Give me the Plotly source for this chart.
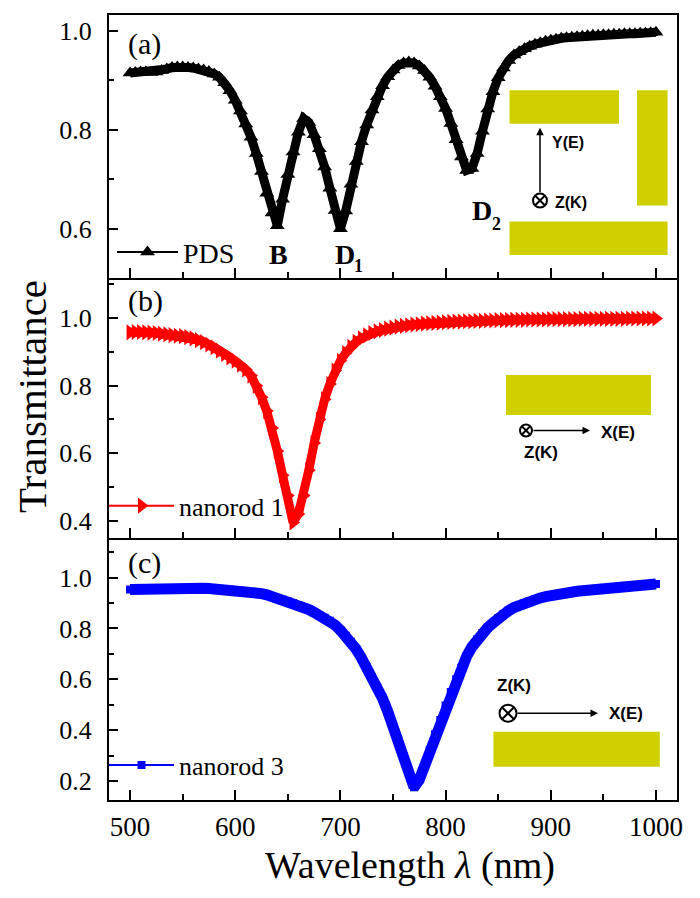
import plotly.graph_objects as go
from plotly.subplots import make_subplots

# ---------------- data ----------------
wavelength_nm = list(range(500, 1005, 5))

pds = [
    0.915, 0.916, 0.917, 0.917, 0.916, 0.917, 0.920, 0.923, 0.926, 0.927,
    0.927, 0.926, 0.925, 0.923, 0.921, 0.918, 0.913, 0.906, 0.895, 0.879,
    0.860, 0.838, 0.812, 0.785, 0.752, 0.716, 0.672, 0.632, 0.606, 0.660,
    0.710, 0.755, 0.795, 0.823, 0.815, 0.790, 0.762, 0.725, 0.682, 0.637,
    0.600, 0.636, 0.690, 0.736, 0.776, 0.810, 0.840, 0.867, 0.889, 0.907,
    0.921, 0.930, 0.935, 0.937, 0.935, 0.929, 0.920, 0.906, 0.888, 0.867,
    0.843, 0.813, 0.780, 0.745, 0.718, 0.722, 0.752, 0.797, 0.842, 0.877,
    0.905, 0.925, 0.940, 0.951, 0.958, 0.964, 0.969, 0.973, 0.976, 0.979,
    0.981, 0.983, 0.985, 0.986, 0.987, 0.988, 0.989, 0.990, 0.991, 0.991,
    0.992, 0.992, 0.993, 0.993, 0.994, 0.994, 0.994, 0.995, 0.995, 0.996,
    0.997,
]

nanorod1 = [
    0.958, 0.959, 0.959, 0.958, 0.957, 0.956, 0.954, 0.952, 0.950, 0.948,
    0.947, 0.944, 0.940, 0.935, 0.929, 0.922, 0.914, 0.904, 0.894, 0.884,
    0.874, 0.862, 0.848, 0.830, 0.800, 0.766, 0.725, 0.675, 0.607, 0.535,
    0.475, 0.395, 0.420, 0.475, 0.550, 0.630, 0.700, 0.760, 0.805, 0.845,
    0.874, 0.897, 0.915, 0.930, 0.940, 0.949, 0.956, 0.961, 0.965, 0.969,
    0.972, 0.975, 0.977, 0.979, 0.981, 0.982, 0.984, 0.985, 0.986, 0.987,
    0.988, 0.989, 0.990, 0.990, 0.991, 0.991, 0.992, 0.992, 0.993, 0.993,
    0.994, 0.994, 0.994, 0.995, 0.995, 0.995, 0.996, 0.996, 0.996, 0.996,
    0.997, 0.997, 0.997, 0.997, 0.997, 0.997, 0.998, 0.998, 0.998, 0.998,
    0.998, 0.998, 0.998, 0.998, 0.998, 0.999, 0.999, 0.999, 0.999, 0.999,
    0.999,
]

nanorod3 = [
    0.953, 0.954, 0.955, 0.956, 0.957, 0.957, 0.958, 0.958, 0.959, 0.959,
    0.959, 0.959, 0.959, 0.958, 0.958, 0.957, 0.956, 0.955, 0.953, 0.952,
    0.950, 0.948, 0.946, 0.943, 0.940, 0.937, 0.932, 0.926, 0.920, 0.913,
    0.906, 0.899, 0.892, 0.884, 0.874, 0.863, 0.852, 0.842, 0.830, 0.813,
    0.793, 0.771, 0.748, 0.718, 0.684, 0.647, 0.608, 0.568, 0.525, 0.473,
    0.418, 0.360, 0.298, 0.235, 0.175, 0.205, 0.260, 0.322, 0.384, 0.440,
    0.497, 0.550, 0.600, 0.645, 0.690, 0.727, 0.757, 0.782, 0.803, 0.821,
    0.840, 0.856, 0.870, 0.882, 0.892, 0.900, 0.908, 0.914, 0.920, 0.925,
    0.930, 0.934, 0.938, 0.941, 0.944, 0.946, 0.948, 0.950, 0.952, 0.954,
    0.956, 0.958, 0.960, 0.962, 0.964, 0.966, 0.968, 0.970, 0.972, 0.973,
    0.975,
]

series_names = ["PDS", "nanorod 1", "nanorod 3"]
panel_labels = ["(a)", "(b)", "(c)"]
x_tick_values = [500, 600, 700, 800, 900, 1000]
x_tick_labels = ["500", "600", "700", "800", "900", "1000"]

# ---------------- layout helpers ----------------
# Positions below are in screen pixels of the 700x898 window. The page body
# keeps the browser's default 8px margin, so the figure is made 16px smaller
# and its margins are shifted by 8px to land on those screen positions.
WIN_W, WIN_H = 700, 898
OFF = 8
FIG_W, FIG_H = WIN_W - 2 * OFF, WIN_H - 2 * OFF
L, R, T, B = 109, 677, 13, 800


def fx(px):
    return (px - L) / (R - L)


def fy(py):
    return (B - py) / (B - T)


SERIF = "Liberation Serif, Times New Roman, serif"
SANS = "Liberation Sans, Arial, sans-serif"
YELLOW = "#d0d000"

fig = make_subplots(rows=3, cols=1, shared_xaxes=True, vertical_spacing=0)

styles = [
    dict(color="black", symbol="triangle-up", msize=13, lw=9, legend="legend"),
    dict(color="#ff0000", symbol="triangle-right", msize=14, lw=9, legend="legend2"),
    dict(color="#0000ff", symbol="square", msize=8, lw=11, legend="legend3"),
]
for i, (yvals, st) in enumerate(zip([pds, nanorod1, nanorod3], styles)):
    fig.add_trace(go.Scatter(x=wavelength_nm, y=yvals, mode="lines",
                             line=dict(color=st["color"], width=st["lw"]),
                             showlegend=False, hoverinfo="skip"),
                  row=i + 1, col=1)
    fig.add_trace(go.Scatter(x=wavelength_nm, y=yvals, mode="lines+markers",
                             name=series_names[i],
                             line=dict(color=st["color"], width=2),
                             marker=dict(symbol=st["symbol"], size=st["msize"],
                                         color=st["color"]),
                             legend=st["legend"]),
                  row=i + 1, col=1)

xcommon = dict(range=[480, 1020], showline=True, linecolor="black", linewidth=2,
               ticks="inside", ticklen=10, tickwidth=2, tickcolor="black",
               tickvals=x_tick_values, ticktext=x_tick_labels,
               minor=dict(ticks="inside", ticklen=6, tickwidth=2, tickcolor="black",
                          dtick=50, tick0=500),
               showgrid=False, zeroline=False)
fig.update_layout(
    xaxis=dict(xcommon, mirror=True, showticklabels=False),
    xaxis2=dict(xcommon, mirror=False, showticklabels=False),
    xaxis3=dict(xcommon, mirror=False, showticklabels=True,
                tickfont=dict(family=SERIF, size=27, color="black"),
                ticklabelstandoff=2),
)

ycommon = dict(showline=True, linecolor="black", linewidth=2, mirror=True,
               ticks="inside", ticklen=9, tickwidth=2, tickcolor="black",
               tick0=0, dtick=0.2, tickformat=".1f",
               minor=dict(ticks="inside", ticklen=5, tickwidth=2, tickcolor="black",
                          dtick=0.1, tick0=0),
               tickfont=dict(family=SERIF, size=26, color="black"),
               ticklabelstandoff=10, showgrid=False, zeroline=False)
b_ab = fy(277)
b_bc = fy(537)
fig.update_layout(
    yaxis=dict(ycommon, range=[0.5, 1.032], domain=[b_ab, 1]),
    yaxis2=dict(ycommon, range=[0.35, 1.118], domain=[b_bc, b_ab]),
    yaxis3=dict(ycommon, range=[0.125, 1.157], domain=[0, b_bc]),
)

leg_common = dict(xanchor="left", yanchor="middle", bgcolor="rgba(0,0,0,0)",
                  borderwidth=0)
fig.update_layout(
    legend=dict(leg_common, x=fx(112), y=fy(251), itemwidth=61,
                font=dict(family=SERIF, size=28, color="black")),
    legend2=dict(leg_common, x=fx(104), y=fy(505), itemwidth=65,
                 font=dict(family=SERIF, size=26, color="black")),
    legend3=dict(leg_common, x=fx(104), y=fy(765), itemwidth=65,
                 font=dict(family=SERIF, size=26, color="black")),
)

# ---------------- annotations ----------------
ann = []


def text(px, py, s, size, family=SERIF, xanchor="center", bold=False, angle=0):
    if bold:
        s = "<b>" + s + "</b>"
    ann.append(dict(x=fx(px), y=fy(py), xref="paper", yref="paper", text=s,
                    showarrow=False, xanchor=xanchor, yanchor="middle",
                    textangle=angle,
                    font=dict(family=family, size=size, color="black")))


text(126, 42, panel_labels[0], 30, xanchor="left")
text(126, 300, panel_labels[1], 30, xanchor="left")
text(126, 562, panel_labels[2], 30, xanchor="left")
text(278, 253, "B", 28, bold=True)
text(344.5, 253, "D", 28, bold=True)
text(358, 265, "1", 18, bold=True)
text(481.5, 209, "D", 28, bold=True)
text(496, 223, "2", 18, bold=True)

text(32, 395, "Transmittance", 41, angle=-90)
text(410, 866, "Wavelength <i>λ</i> (nm)", 38)

# inset labels
text(568, 141, "<b>Y(E)</b>", 16, family=SANS)
text(571, 201, "<b>Z(K)</b>", 16, family=SANS)
text(618, 431.5, "<b>X(E)</b>", 17, family=SANS)
text(540.5, 452, "<b>Z(K)</b>", 17, family=SANS)
text(514, 685, "<b>Z(K)</b>", 17, family=SANS)
text(626, 713, "<b>X(E)</b>", 17, family=SANS)


def arrow(tipx, tipy, tailx, taily):
    ann.append(dict(x=fx(tipx), y=fy(tipy), xref="paper", yref="paper", text="",
                    showarrow=True, ax=tailx - tipx, ay=taily - tipy,
                    axref="pixel", ayref="pixel",
                    arrowhead=2, arrowsize=1, arrowwidth=1.5, arrowcolor="black",
                    standoff=0, startstandoff=0))


arrow(540, 126, 540, 192)
arrow(590, 429.5, 532, 429.5)
arrow(598, 713, 516, 713)

fig.update_layout(annotations=ann)

# ---------------- inset shapes ----------------
shapes = []


def rect(x0, y0, x1, y1):
    shapes.append(dict(type="rect", xref="paper", yref="paper",
                       x0=fx(x0), x1=fx(x1), y0=fy(y1), y1=fy(y0),
                       fillcolor=YELLOW, line=dict(width=0), layer="below"))


def otimes(cx, cy, r):
    shapes.append(dict(type="circle", xref="paper", yref="paper",
                       x0=fx(cx - r), x1=fx(cx + r), y0=fy(cy + r), y1=fy(cy - r),
                       line=dict(color="black", width=2)))
    d = r * 0.68
    for sgn in (1, -1):
        shapes.append(dict(type="line", xref="paper", yref="paper",
                           x0=fx(cx - d), x1=fx(cx + d),
                           y0=fy(cy - sgn * d), y1=fy(cy + sgn * d),
                           line=dict(color="black", width=2)))


rect(509.5, 88.5, 619, 122)
rect(637, 88.5, 667.6, 204)
rect(509.5, 220, 667.6, 253.6)
rect(506, 374, 651, 414)
rect(493.4, 731.7, 659.8, 766.7)
otimes(540, 199, 7)
otimes(526, 429.5, 6)
otimes(508, 713, 8.5)

fig.update_layout(
    shapes=shapes,
    width=FIG_W, height=FIG_H,
    margin=dict(l=L - OFF, r=FIG_W - (R - OFF), t=T - OFF, b=FIG_H - (B - OFF)),
    paper_bgcolor="white", plot_bgcolor="white",
    font=dict(family=SERIF, color="black"),
    showlegend=True,
)

fig.write_html("out.html")
